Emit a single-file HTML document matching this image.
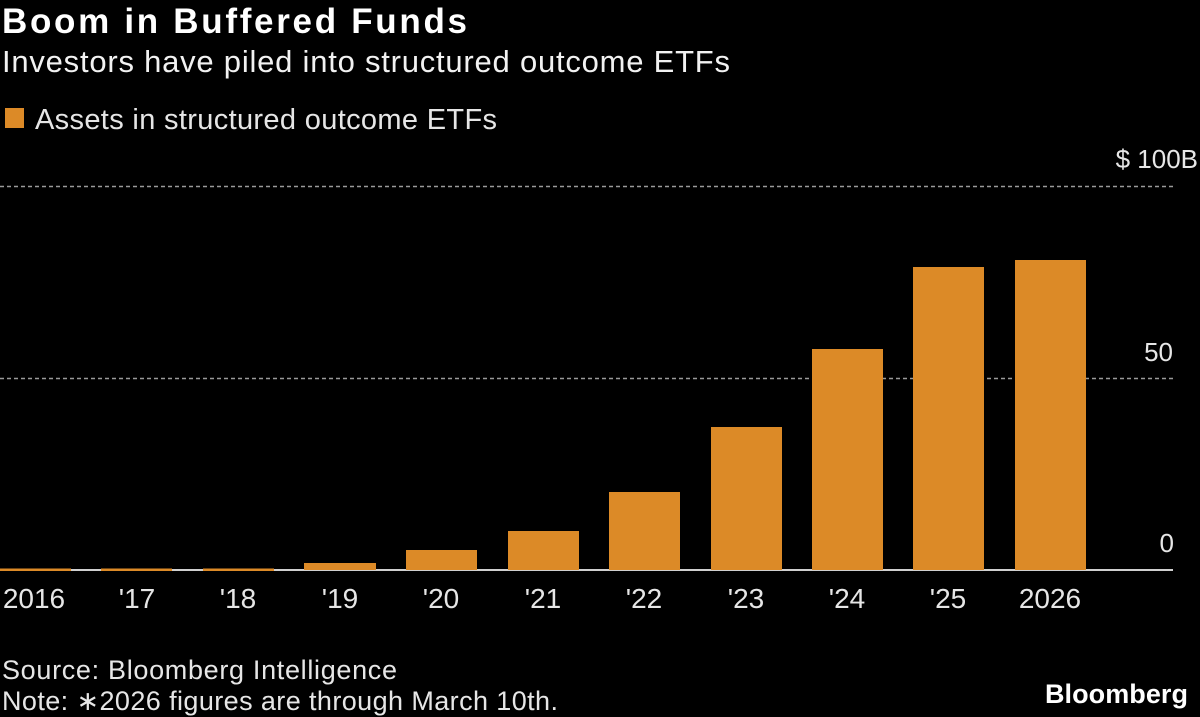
<!DOCTYPE html>
<html>
<head>
<meta charset="utf-8">
<style>
  html, body { margin: 0; padding: 0; background: #000; }
  body { width: 1200px; height: 717px; overflow: hidden; }
  svg { display: block; }
  text { font-family: "Liberation Sans", Arial, sans-serif; }
</style>
</head>
<body>
<svg width="1200" height="717" viewBox="0 0 1200 717" xmlns="http://www.w3.org/2000/svg">
  <rect x="0" y="0" width="1200" height="717" fill="#000"/>

  <!-- Title / subtitle -->
  <text x="2" y="33" font-size="35" font-weight="bold" fill="#ffffff" textLength="465" lengthAdjust="spacing">Boom in Buffered Funds</text>
  <text x="2" y="72" font-size="31" fill="#f2f2f2" textLength="728" lengthAdjust="spacing">Investors have piled into structured outcome ETFs</text>

  <!-- Legend -->
  <rect x="5" y="108" width="19" height="20" fill="#dc8a27"/>
  <text x="35" y="129" font-size="29" fill="#e6e6e6" textLength="462" lengthAdjust="spacing">Assets in structured outcome ETFs</text>

  <!-- Gridlines -->
  <line x1="0" y1="186.5" x2="1173" y2="186.5" stroke="#9a9a9a" stroke-width="1.6" stroke-dasharray="4,3"/>
  <line x1="0" y1="378.5" x2="1173" y2="378.5" stroke="#9a9a9a" stroke-width="1.6" stroke-dasharray="4,3"/>

  <!-- Y labels -->
  <text x="1198" y="168" font-size="26" fill="#e6e6e6" text-anchor="end">$ 100B</text>
  <text x="1173" y="361" font-size="26" fill="#e6e6e6" text-anchor="end">50</text>
  <text x="1174" y="552" font-size="26" fill="#e6e6e6" text-anchor="end">0</text>

  <!-- Axis line -->
  <line x1="0" y1="570" x2="1173" y2="570" stroke="#d0d0d0" stroke-width="2"/>

  <!-- Bars -->
  <g fill="#dc8a27">
    <rect x="0" y="568.5" width="71" height="2.5"/>
    <rect x="101" y="568.5" width="71" height="2.5"/>
    <rect x="203" y="568.5" width="71" height="2.5"/>
    <rect x="304" y="563" width="72" height="7"/>
    <rect x="406" y="550" width="71" height="20"/>
    <rect x="508" y="531" width="71" height="39"/>
    <rect x="609" y="492" width="71" height="78"/>
    <rect x="711" y="427" width="71" height="143"/>
    <rect x="812" y="349" width="71" height="221"/>
    <rect x="913" y="267" width="71" height="303"/>
    <rect x="1015" y="260" width="71" height="310"/>
  </g>

  <!-- X labels -->
  <g font-size="28" fill="#e6e6e6" text-anchor="middle">
    <text x="34" y="608">2016</text>
    <text x="137" y="608">'17</text>
    <text x="238" y="608">'18</text>
    <text x="340" y="608">'19</text>
    <text x="441" y="608">'20</text>
    <text x="543" y="608">'21</text>
    <text x="644" y="608">'22</text>
    <text x="746" y="608">'23</text>
    <text x="847" y="608">'24</text>
    <text x="948" y="608">'25</text>
    <text x="1050" y="608">2026</text>
  </g>

  <!-- Footer -->
  <text x="2" y="679" font-size="27" fill="#e6e6e6" textLength="395" lengthAdjust="spacing">Source: Bloomberg Intelligence</text>
  <text x="2" y="710" font-size="27" fill="#e6e6e6" textLength="556" lengthAdjust="spacing">Note: ∗2026 figures are through March 10th.</text>

  <text x="1045" y="703" font-size="27" font-weight="bold" fill="#ffffff" textLength="143" lengthAdjust="spacing">Bloomberg</text>
</svg>
</body>
</html>
